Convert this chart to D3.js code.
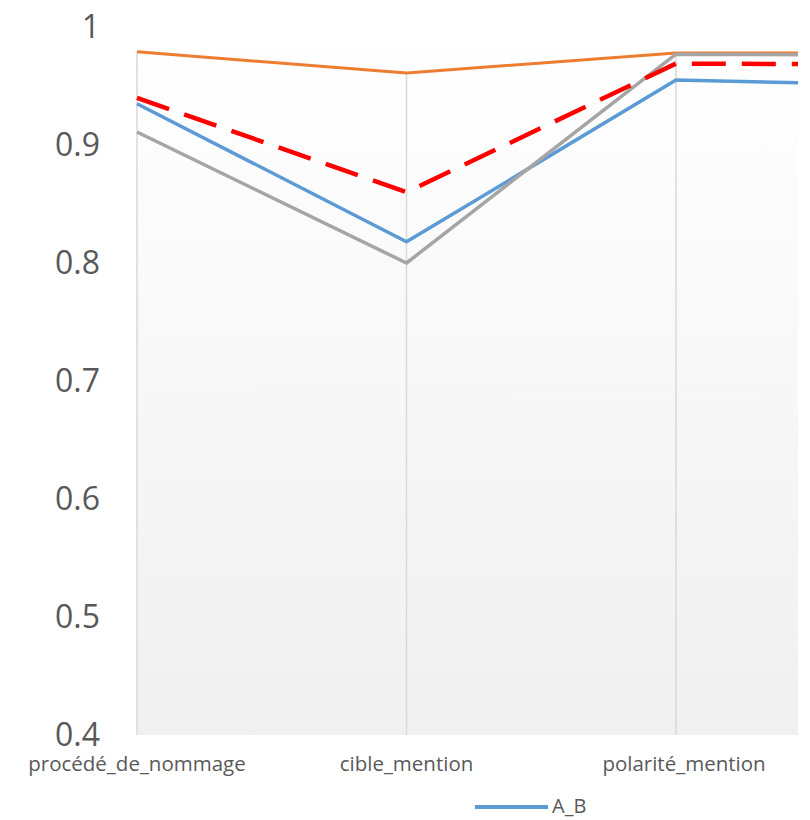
<!DOCTYPE html>
<html>
<head>
<meta charset="utf-8">
<script src="https://cdn.jsdelivr.net/npm/d3@7"></script>
<style>
  html, body { margin: 0; padding: 0; background: #fff; }
  svg { display: block; }
</style>
</head>
<body>
<svg id="chart" width="810" height="820"></svg>
<script>
// ---- data ----
const categories = ["procédé_de_nommage", "cible_mention", "polarité_mention"];
// 4th point lies beyond the cropped right edge
const seriesAB = [0.935, 0.818, 0.955, 0.950];
const seriesOrange = [0.979, 0.961, 0.978, 0.978];
const seriesGray = [0.911, 0.800, 0.977, 0.976];
const seriesRed = [0.940, 0.860, 0.969, 0.968];
const yTicks = [0.4, 0.5, 0.6, 0.7, 0.8, 0.9, 1];
const legendNames = ["A_B"];

const svg = d3.select("#chart");
const plot = { left: 137, right: 798, top: 27, bottom: 735 };

const x = d3.scaleLinear().domain([0, 3]).range([137, 945.5]);
const y = d3.scaleLinear().domain([0.4, 1]).range([735, 27]);

// gradient background
const defs = svg.append("defs");
const grad = defs.append("linearGradient").attr("id", "bg")
  .attr("x1", 0).attr("y1", 0).attr("x2", 0).attr("y2", 1);
grad.append("stop").attr("offset", "0%").attr("stop-color", "#ffffff");
grad.append("stop").attr("offset", "100%").attr("stop-color", "#f0f0f0");
defs.append("clipPath").attr("id", "clip").append("rect")
  .attr("x", plot.left - 5).attr("y", 0)
  .attr("width", plot.right - plot.left + 5).attr("height", plot.bottom + 5);

svg.append("rect")
  .attr("x", plot.left).attr("y", plot.top)
  .attr("width", plot.right - plot.left).attr("height", plot.bottom - plot.top)
  .attr("fill", "url(#bg)");

const g = svg.append("g").attr("clip-path", "url(#clip)");

// drop lines (from highest value to axis)
const allSeries = [seriesAB, seriesOrange, seriesGray, seriesRed];
const maxes = d3.range(4).map(i => d3.max(allSeries, s => s[i]));
g.selectAll("line.drop").data(maxes).join("line")
  .attr("class", "drop")
  .attr("x1", (d, i) => x(i)).attr("x2", (d, i) => x(i))
  .attr("y1", d => y(d)).attr("y2", y(0.4))
  .attr("stroke", "#d9d9d9").attr("stroke-width", 1.5);

const line = d3.line().x((d, i) => x(i)).y(d => y(d));

const styles = [
  { data: seriesAB, color: "#5B9BD5", width: 3.5, dash: null },
  { data: seriesOrange, color: "#ED7D31", width: 3, dash: null },
  { data: seriesGray, color: "#A5A5A5", width: 3.5, dash: null },
  { data: seriesRed, color: "#FF0000", width: 4.5, dash: "34,16" }
];
styles.forEach(s => {
  g.append("path").datum(s.data)
    .attr("d", line)
    .attr("fill", "none")
    .attr("stroke", s.color)
    .attr("stroke-width", s.width)
    .attr("stroke-linejoin", "round")
    .attr("stroke-dasharray", s.dash);
});

// y axis labels
const yAxis = d3.axisLeft(y).tickValues(yTicks).tickSize(0).tickPadding(0)
  .tickFormat(d => d3.format("")(+d.toFixed(1)));
const ya = svg.append("g").attr("transform", "translate(100,0)").call(yAxis);
ya.select(".domain").remove();
ya.selectAll("text")
  .attr("font-family", "'Open Sans', sans-serif")
  .attr("font-size", 32)
  .attr("fill", "#595959")
  .attr("dy", "0.34em");

// x axis labels
const xa = svg.append("g").attr("transform", "translate(0,771)");
xa.selectAll("text").data(categories).join("text")
  .attr("x", (d, i) => x(i) + (i === 2 ? 8 : 0))
  .attr("y", 0)
  .attr("text-anchor", "middle")
  .attr("font-family", "'Open Sans', sans-serif")
  .attr("font-size", 20.5)
  .attr("fill", "#595959")
  .text(d => d);

// legend
const lg = svg.append("g");
lg.append("line")
  .attr("x1", 475).attr("x2", 548).attr("y1", 807).attr("y2", 807)
  .attr("stroke", "#5B9BD5").attr("stroke-width", 4);
lg.append("text")
  .attr("x", 552).attr("y", 813)
  .attr("font-family", "'Open Sans', sans-serif")
  .attr("font-size", 20)
  .attr("fill", "#595959")
  .text(legendNames[0]);
</script>
</body>
</html>
